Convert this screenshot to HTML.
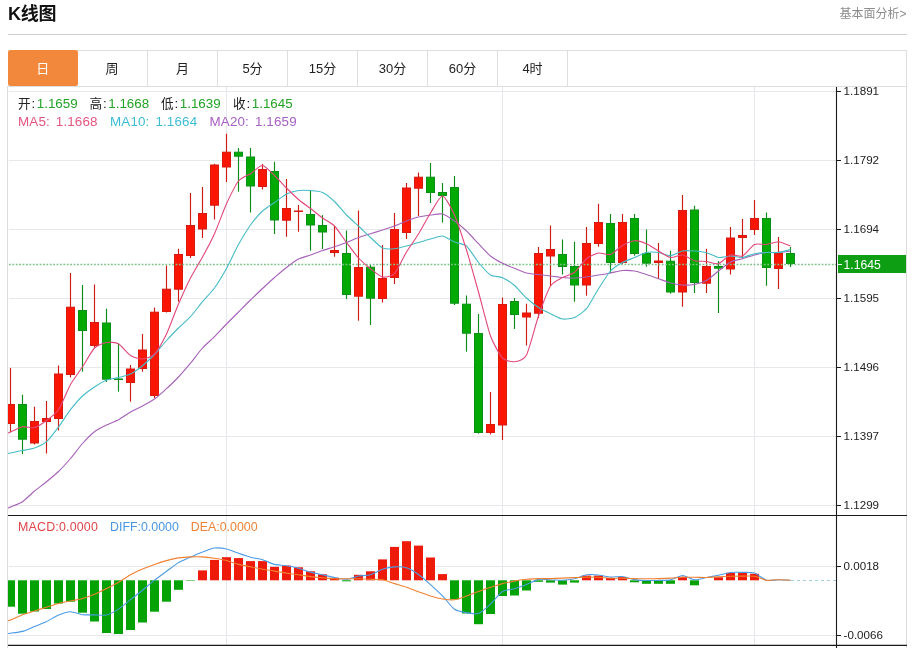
<!DOCTYPE html>
<html lang="zh-CN"><head><meta charset="utf-8"><title>K线图</title>
<style>
html,body{margin:0;padding:0;background:#fff}
body{width:914px;height:648px;position:relative;overflow:hidden;font-family:"Liberation Sans","Noto Sans CJK SC",sans-serif;color:#222}
.title{position:absolute;left:8px;top:2px;font-size:18px;font-weight:bold;line-height:24px;color:#111;letter-spacing:-.3px}
.more{position:absolute;right:7.5px;top:4.7px;font-size:12px;line-height:18px;color:#8c8c8c}
.hr{position:absolute;left:8px;top:34px;width:899px;height:1px;background:#cfcfcf}
.tabs{position:absolute;left:8px;top:50px;width:898px;height:35px;border:1px solid #dedede;border-left:none;box-sizing:content-box}
.tabs span{position:absolute;top:0;height:35px;width:69px;border-right:1px solid #dedede;text-align:center;line-height:35px;font-size:13px;color:#222}
.tabs span.on{background:#f2883b;color:#fff;border-right:none;width:69.5px;border-radius:2.5px;top:-1px;height:36px;line-height:37px}
.chart{position:absolute;left:0;top:0}
.t{position:absolute;white-space:nowrap;font-size:13.4px;line-height:16px}
.gn{color:#22a326;margin-left:1.6px}
.m{letter-spacing:.16px;word-spacing:2px}
.k{font-size:12.6px;margin-right:.8px}
</style></head><body>
<div class="title">K线图</div>
<div class="more">基本面分析&gt;</div>
<div class="hr"></div>
<div class="tabs"><span class="on" style="left:0">日</span><span style="left:69px;width:70px">周</span><span style="left:140px">月</span><span style="left:210px">5分</span><span style="left:280px">15分</span><span style="left:350px">30分</span><span style="left:420px">60分</span><span style="left:490px">4时</span></div>
<svg class="chart" width="914" height="648" viewBox="0 0 914 648"><defs><clipPath id="cp"><rect x="8" y="87" width="828.5" height="428"/></clipPath><clipPath id="cp2"><rect x="8" y="516" width="828.5" height="129"/></clipPath></defs><g stroke="#e7e8ec" stroke-width="1" fill="none"><path d="M9 91.5H836"/><path d="M9 160.5H836"/><path d="M9 229.5H836"/><path d="M9 298.5H836"/><path d="M9 367.5H836"/><path d="M9 436.5H836"/><path d="M9 505.5H836"/><path d="M9 566.5H836"/><path d="M9 635.5H836"/><path d="M226.5 87V645"/><path d="M502.5 87V645"/><path d="M754.5 87V645"/></g><path d="M7.5 86V648M906.5 86V648" stroke="#dcdcdc" stroke-width="1" fill="none"/><g clip-path="url(#cp)"><path d="M10.5 368.0V431.7" stroke="#cc1a14" stroke-width="1.15"/><rect x="6.5" y="404.5" width="8" height="19.0" fill="#fb1503" stroke="#d8190d" stroke-width="1"/><path d="M22.5 394.7V454.0" stroke="#0d8c1b" stroke-width="1.15"/><rect x="18.5" y="404.5" width="8" height="34.7" fill="#03a903" stroke="#0b9016" stroke-width="1"/><path d="M34.5 406.7V444.5" stroke="#cc1a14" stroke-width="1.15"/><rect x="30.5" y="421.5" width="8" height="21.5" fill="#fb1503" stroke="#d8190d" stroke-width="1"/><path d="M46.5 401.0V453.5" stroke="#cc1a14" stroke-width="1.15"/><rect x="42.5" y="418.5" width="8" height="3.0" fill="#fb1503" stroke="#d8190d" stroke-width="1"/><path d="M58.5 365.5V430.5" stroke="#cc1a14" stroke-width="1.15"/><rect x="54.5" y="374.0" width="8" height="44.5" fill="#fb1503" stroke="#d8190d" stroke-width="1"/><path d="M70.5 273.0V377.5" stroke="#cc1a14" stroke-width="1.15"/><rect x="66.5" y="307.2" width="8" height="67.3" fill="#fb1503" stroke="#d8190d" stroke-width="1"/><path d="M82.5 285.0V371.7" stroke="#0d8c1b" stroke-width="1.15"/><rect x="78.5" y="310.5" width="8" height="20.0" fill="#03a903" stroke="#0b9016" stroke-width="1"/><path d="M94.5 284.5V348.0" stroke="#cc1a14" stroke-width="1.15"/><rect x="90.5" y="322.5" width="8" height="23.0" fill="#fb1503" stroke="#d8190d" stroke-width="1"/><path d="M106.5 308.7V382.0" stroke="#0d8c1b" stroke-width="1.15"/><rect x="102.5" y="323.0" width="8" height="56.2" fill="#03a903" stroke="#0b9016" stroke-width="1"/><path d="M118.5 344.0V391.7" stroke="#0d8c1b" stroke-width="1.15"/><rect x="114.5" y="379.0" width="8" height="0.5" fill="#03a903" stroke="#0b9016" stroke-width="1"/><path d="M130.5 365.0V401.7" stroke="#cc1a14" stroke-width="1.15"/><rect x="126.5" y="369.0" width="8" height="13.5" fill="#fb1503" stroke="#d8190d" stroke-width="1"/><path d="M142.5 334.0V371.7" stroke="#cc1a14" stroke-width="1.15"/><rect x="138.5" y="350.0" width="8" height="18.5" fill="#fb1503" stroke="#d8190d" stroke-width="1"/><path d="M154.5 307.5V398.0" stroke="#cc1a14" stroke-width="1.15"/><rect x="150.5" y="312.2" width="8" height="83.3" fill="#fb1503" stroke="#d8190d" stroke-width="1"/><path d="M166.5 265.5V312.5" stroke="#cc1a14" stroke-width="1.15"/><rect x="162.5" y="289.2" width="8" height="22.3" fill="#fb1503" stroke="#d8190d" stroke-width="1"/><path d="M178.5 248.7V301.7" stroke="#cc1a14" stroke-width="1.15"/><rect x="174.5" y="254.5" width="8" height="34.7" fill="#fb1503" stroke="#d8190d" stroke-width="1"/><path d="M190.5 193.0V258.0" stroke="#cc1a14" stroke-width="1.15"/><rect x="186.5" y="225.5" width="8" height="30.0" fill="#fb1503" stroke="#d8190d" stroke-width="1"/><path d="M202.5 187.0V238.0" stroke="#cc1a14" stroke-width="1.15"/><rect x="198.5" y="213.5" width="8" height="15.5" fill="#fb1503" stroke="#d8190d" stroke-width="1"/><path d="M214.5 163.7V219.5" stroke="#cc1a14" stroke-width="1.15"/><rect x="210.5" y="165.0" width="8" height="40.2" fill="#fb1503" stroke="#d8190d" stroke-width="1"/><path d="M226.5 133.7V182.0" stroke="#cc1a14" stroke-width="1.15"/><rect x="222.5" y="152.2" width="8" height="14.8" fill="#fb1503" stroke="#d8190d" stroke-width="1"/><path d="M238.5 148.0V191.7" stroke="#0d8c1b" stroke-width="1.15"/><rect x="234.5" y="152.2" width="8" height="4.0" fill="#03a903" stroke="#0b9016" stroke-width="1"/><path d="M250.5 148.0V212.5" stroke="#0d8c1b" stroke-width="1.15"/><rect x="246.5" y="157.0" width="8" height="29.0" fill="#03a903" stroke="#0b9016" stroke-width="1"/><path d="M262.5 164.0V189.5" stroke="#cc1a14" stroke-width="1.15"/><rect x="258.5" y="169.5" width="8" height="17.0" fill="#fb1503" stroke="#d8190d" stroke-width="1"/><path d="M274.5 161.7V234.0" stroke="#0d8c1b" stroke-width="1.15"/><rect x="270.5" y="171.5" width="8" height="48.5" fill="#03a903" stroke="#0b9016" stroke-width="1"/><path d="M286.5 179.0V236.7" stroke="#cc1a14" stroke-width="1.15"/><rect x="282.5" y="208.5" width="8" height="11.7" fill="#fb1503" stroke="#d8190d" stroke-width="1"/><path d="M298.5 205.0V231.7" stroke="#cc1a14" stroke-width="1.15"/><rect x="294.5" y="211.0" width="8" height="0.5" fill="#fb1503" stroke="#d8190d" stroke-width="1"/><path d="M310.5 190.5V250.7" stroke="#0d8c1b" stroke-width="1.15"/><rect x="306.5" y="214.5" width="8" height="10.5" fill="#03a903" stroke="#0b9016" stroke-width="1"/><path d="M322.5 215.0V249.0" stroke="#0d8c1b" stroke-width="1.15"/><rect x="318.5" y="225.5" width="8" height="6.5" fill="#03a903" stroke="#0b9016" stroke-width="1"/><path d="M334.5 226.0V256.7" stroke="#cc1a14" stroke-width="1.15"/><rect x="330.5" y="250.5" width="8" height="2.0" fill="#fb1503" stroke="#d8190d" stroke-width="1"/><path d="M346.5 230.5V299.0" stroke="#0d8c1b" stroke-width="1.15"/><rect x="342.5" y="253.5" width="8" height="41.0" fill="#03a903" stroke="#0b9016" stroke-width="1"/><path d="M358.5 210.5V320.7" stroke="#cc1a14" stroke-width="1.15"/><rect x="354.5" y="267.5" width="8" height="28.7" fill="#fb1503" stroke="#d8190d" stroke-width="1"/><path d="M370.5 265.0V325.0" stroke="#0d8c1b" stroke-width="1.15"/><rect x="366.5" y="267.2" width="8" height="31.0" fill="#03a903" stroke="#0b9016" stroke-width="1"/><path d="M382.5 245.0V302.5" stroke="#cc1a14" stroke-width="1.15"/><rect x="378.5" y="278.5" width="8" height="20.0" fill="#fb1503" stroke="#d8190d" stroke-width="1"/><path d="M394.5 213.0V284.0" stroke="#cc1a14" stroke-width="1.15"/><rect x="390.5" y="229.5" width="8" height="48.0" fill="#fb1503" stroke="#d8190d" stroke-width="1"/><path d="M406.5 183.0V239.0" stroke="#cc1a14" stroke-width="1.15"/><rect x="402.5" y="188.0" width="8" height="44.5" fill="#fb1503" stroke="#d8190d" stroke-width="1"/><path d="M418.5 172.5V216.0" stroke="#cc1a14" stroke-width="1.15"/><rect x="414.5" y="177.2" width="8" height="11.0" fill="#fb1503" stroke="#d8190d" stroke-width="1"/><path d="M430.5 163.0V203.0" stroke="#0d8c1b" stroke-width="1.15"/><rect x="426.5" y="177.2" width="8" height="15.3" fill="#03a903" stroke="#0b9016" stroke-width="1"/><path d="M442.5 183.0V222.5" stroke="#0d8c1b" stroke-width="1.15"/><rect x="438.5" y="192.5" width="8" height="3.0" fill="#03a903" stroke="#0b9016" stroke-width="1"/><path d="M454.5 176.0V305.0" stroke="#0d8c1b" stroke-width="1.15"/><rect x="450.5" y="187.5" width="8" height="115.7" fill="#03a903" stroke="#0b9016" stroke-width="1"/><path d="M466.5 295.5V351.7" stroke="#0d8c1b" stroke-width="1.15"/><rect x="462.5" y="304.2" width="8" height="29.0" fill="#03a903" stroke="#0b9016" stroke-width="1"/><path d="M478.5 314.0V433.7" stroke="#0d8c1b" stroke-width="1.15"/><rect x="474.5" y="333.5" width="8" height="99.0" fill="#03a903" stroke="#0b9016" stroke-width="1"/><path d="M490.5 392.0V434.5" stroke="#cc1a14" stroke-width="1.15"/><rect x="486.5" y="424.5" width="8" height="8.0" fill="#fb1503" stroke="#d8190d" stroke-width="1"/><path d="M502.5 297.5V440.0" stroke="#cc1a14" stroke-width="1.15"/><rect x="498.5" y="304.5" width="8" height="120.5" fill="#fb1503" stroke="#d8190d" stroke-width="1"/><path d="M514.5 298.0V329.0" stroke="#0d8c1b" stroke-width="1.15"/><rect x="510.5" y="301.5" width="8" height="13.0" fill="#03a903" stroke="#0b9016" stroke-width="1"/><path d="M526.5 303.7V345.5" stroke="#cc1a14" stroke-width="1.15"/><rect x="522.5" y="313.0" width="8" height="4.0" fill="#fb1503" stroke="#d8190d" stroke-width="1"/><path d="M538.5 247.0V318.0" stroke="#cc1a14" stroke-width="1.15"/><rect x="534.5" y="253.5" width="8" height="59.7" fill="#fb1503" stroke="#d8190d" stroke-width="1"/><path d="M550.5 225.5V286.0" stroke="#cc1a14" stroke-width="1.15"/><rect x="546.5" y="249.5" width="8" height="6.5" fill="#fb1503" stroke="#d8190d" stroke-width="1"/><path d="M562.5 239.5V274.5" stroke="#0d8c1b" stroke-width="1.15"/><rect x="558.5" y="254.5" width="8" height="12.0" fill="#03a903" stroke="#0b9016" stroke-width="1"/><path d="M574.5 241.7V301.7" stroke="#0d8c1b" stroke-width="1.15"/><rect x="570.5" y="266.5" width="8" height="18.5" fill="#03a903" stroke="#0b9016" stroke-width="1"/><path d="M586.5 227.0V295.7" stroke="#cc1a14" stroke-width="1.15"/><rect x="582.5" y="243.5" width="8" height="41.5" fill="#fb1503" stroke="#d8190d" stroke-width="1"/><path d="M598.5 203.7V246.7" stroke="#cc1a14" stroke-width="1.15"/><rect x="594.5" y="222.5" width="8" height="21.0" fill="#fb1503" stroke="#d8190d" stroke-width="1"/><path d="M610.5 214.0V273.0" stroke="#0d8c1b" stroke-width="1.15"/><rect x="606.5" y="223.5" width="8" height="39.0" fill="#03a903" stroke="#0b9016" stroke-width="1"/><path d="M622.5 214.0V264.0" stroke="#cc1a14" stroke-width="1.15"/><rect x="618.5" y="222.5" width="8" height="40.0" fill="#fb1503" stroke="#d8190d" stroke-width="1"/><path d="M634.5 214.0V255.7" stroke="#0d8c1b" stroke-width="1.15"/><rect x="630.5" y="218.5" width="8" height="35.0" fill="#03a903" stroke="#0b9016" stroke-width="1"/><path d="M646.5 229.5V266.7" stroke="#0d8c1b" stroke-width="1.15"/><rect x="642.5" y="253.5" width="8" height="9.7" fill="#03a903" stroke="#0b9016" stroke-width="1"/><path d="M658.5 243.0V279.0" stroke="#cc1a14" stroke-width="1.15"/><rect x="654.5" y="261.0" width="8" height="1.5" fill="#fb1503" stroke="#d8190d" stroke-width="1"/><path d="M670.5 250.7V293.7" stroke="#0d8c1b" stroke-width="1.15"/><rect x="666.5" y="261.2" width="8" height="30.8" fill="#03a903" stroke="#0b9016" stroke-width="1"/><path d="M682.5 195.0V306.7" stroke="#cc1a14" stroke-width="1.15"/><rect x="678.5" y="210.5" width="8" height="81.5" fill="#fb1503" stroke="#d8190d" stroke-width="1"/><path d="M694.5 205.7V293.0" stroke="#0d8c1b" stroke-width="1.15"/><rect x="690.5" y="210.0" width="8" height="72.5" fill="#03a903" stroke="#0b9016" stroke-width="1"/><path d="M706.5 248.7V293.0" stroke="#cc1a14" stroke-width="1.15"/><rect x="702.5" y="266.5" width="8" height="16.7" fill="#fb1503" stroke="#d8190d" stroke-width="1"/><path d="M718.5 261.0V313.0" stroke="#0d8c1b" stroke-width="1.15"/><rect x="714.5" y="266.5" width="8" height="1.7" fill="#03a903" stroke="#0b9016" stroke-width="1"/><path d="M730.5 227.0V274.5" stroke="#cc1a14" stroke-width="1.15"/><rect x="726.5" y="238.0" width="8" height="31.0" fill="#fb1503" stroke="#d8190d" stroke-width="1"/><path d="M742.5 219.0V258.7" stroke="#cc1a14" stroke-width="1.15"/><rect x="738.5" y="235.5" width="8" height="2.0" fill="#fb1503" stroke="#d8190d" stroke-width="1"/><path d="M754.5 200.0V235.0" stroke="#cc1a14" stroke-width="1.15"/><rect x="750.5" y="218.5" width="8" height="11.0" fill="#fb1503" stroke="#d8190d" stroke-width="1"/><path d="M766.5 212.5V285.7" stroke="#0d8c1b" stroke-width="1.15"/><rect x="762.5" y="218.5" width="8" height="49.0" fill="#03a903" stroke="#0b9016" stroke-width="1"/><path d="M778.5 237.0V289.0" stroke="#cc1a14" stroke-width="1.15"/><rect x="774.5" y="253.5" width="8" height="15.0" fill="#fb1503" stroke="#d8190d" stroke-width="1"/><path d="M790.5 247.0V267.0" stroke="#0d8c1b" stroke-width="1.15"/><rect x="786.5" y="253.5" width="8" height="10.0" fill="#03a903" stroke="#0b9016" stroke-width="1"/></g><path d="M9 264.5H836" stroke="#7cc487" stroke-width="1.6" stroke-dasharray="1.8 1.6" fill="none"/><g clip-path="url(#cp)" fill="none" stroke-width="1.1"><path d="M8.0 508.1C8.3 507.9 9.0 507.7 10.5 507.0C12.0 506.3 19.9 503.4 22.5 501.7C25.1 500.0 31.9 493.1 34.5 491.0C37.1 488.9 43.9 483.8 46.5 481.7C49.1 479.6 55.9 474.0 58.5 471.5C61.1 469.0 67.9 461.5 70.5 458.5C73.1 455.5 79.9 446.4 82.5 443.5C85.1 440.6 91.9 433.7 94.5 431.7C97.1 429.7 103.9 426.3 106.5 425.0C109.1 423.7 115.9 421.1 118.5 419.7C121.1 418.3 127.9 413.5 130.5 412.0C133.1 410.5 139.9 407.4 142.5 406.0C145.1 404.6 151.9 400.8 154.5 399.0C157.1 397.2 163.9 391.0 166.5 388.7C169.1 386.4 175.9 379.7 178.5 377.0C181.1 374.3 187.9 366.3 190.5 363.2C193.1 360.1 199.9 350.8 202.5 348.0C205.1 345.2 211.9 339.3 214.5 336.7C217.1 334.1 223.9 326.6 226.5 324.0C229.1 321.4 235.9 314.6 238.5 312.0C241.1 309.4 247.9 302.5 250.5 300.0C253.1 297.5 259.9 290.9 262.5 288.5C265.1 286.1 271.9 279.7 274.5 277.5C277.1 275.3 283.9 269.5 286.5 267.5C289.1 265.5 295.9 260.3 298.5 259.0C301.1 257.7 307.9 255.9 310.5 255.0C313.1 254.1 319.9 251.4 322.5 250.5C325.1 249.6 331.9 247.6 334.5 246.7C337.1 245.8 343.9 243.5 346.5 242.5C349.1 241.5 355.9 238.4 358.5 237.5C361.1 236.6 367.9 234.5 370.5 233.7C373.1 232.9 379.9 230.8 382.5 230.0C385.1 229.2 391.9 227.0 394.5 226.0C397.1 225.0 403.9 222.0 406.5 221.0C409.1 220.0 415.9 217.6 418.5 217.0C421.1 216.4 427.9 215.3 430.5 215.0C433.1 214.7 439.9 213.4 442.5 214.0C445.1 214.6 451.9 219.2 454.5 221.0C457.1 222.8 463.9 228.6 466.5 231.0C469.1 233.4 475.9 241.0 478.5 243.7C481.1 246.4 487.9 253.9 490.5 256.0C493.1 258.1 499.9 262.0 502.5 263.3C505.1 264.6 511.9 267.3 514.5 268.3C517.1 269.3 523.9 272.3 526.5 273.0C529.1 273.7 535.9 274.2 538.5 274.5C541.1 274.8 547.9 275.7 550.5 276.0C553.1 276.3 559.9 277.3 562.5 277.5C565.1 277.7 571.9 278.1 574.5 278.0C577.1 277.9 583.9 277.3 586.5 277.0C589.1 276.7 595.9 275.4 598.5 275.0C601.1 274.6 607.9 273.5 610.5 273.0C613.1 272.5 619.9 270.7 622.5 270.5C625.1 270.3 631.9 270.6 634.5 271.0C637.1 271.4 643.9 273.7 646.5 274.5C649.1 275.3 655.9 277.8 658.5 278.7C661.1 279.6 667.9 282.3 670.5 283.0C673.1 283.7 679.9 284.8 682.5 285.0C685.1 285.2 691.9 285.0 694.5 284.5C697.1 284.0 703.9 281.9 706.5 280.5C709.1 279.1 715.9 273.0 718.5 271.0C721.1 269.0 727.9 263.3 730.5 262.0C733.1 260.7 739.9 259.4 742.5 258.7C745.1 258.0 751.9 255.7 754.5 255.0C757.1 254.3 763.9 252.8 766.5 252.5C769.1 252.2 775.9 252.7 778.5 252.5C781.1 252.3 789.2 251.2 790.5 251.0" stroke="#a661b8"/><path d="M8.0 453.5C8.3 453.4 9.0 453.3 10.5 453.0C12.0 452.7 19.9 451.0 22.5 450.5C25.1 450.0 31.9 448.9 34.5 448.0C37.1 447.1 43.9 443.9 46.5 441.7C49.1 439.5 55.9 430.4 58.5 427.0C61.1 423.6 67.9 413.0 70.5 409.7C73.1 406.4 79.9 398.4 82.5 396.0C85.1 393.6 91.9 388.7 94.5 387.0C97.1 385.3 103.9 381.0 106.5 380.0C109.1 379.0 115.9 378.1 118.5 377.5C121.1 376.9 127.9 375.3 130.5 374.0C133.1 372.7 139.9 367.8 142.5 365.7C145.1 363.6 151.9 357.2 154.5 354.5C157.1 351.8 163.9 343.3 166.5 340.5C169.1 337.7 175.9 330.5 178.5 328.0C181.1 325.5 187.9 319.5 190.5 316.7C193.1 313.9 199.9 304.8 202.5 301.7C205.1 298.6 211.9 291.5 214.5 288.0C217.1 284.5 223.9 273.1 226.5 268.5C229.1 263.9 235.9 249.1 238.5 244.5C241.1 239.9 247.9 228.6 250.5 225.0C253.1 221.4 259.9 213.4 262.5 211.0C265.1 208.6 271.9 204.3 274.5 202.5C277.1 200.7 283.9 195.3 286.5 194.0C289.1 192.7 295.9 190.9 298.5 190.5C301.1 190.1 307.9 190.3 310.5 190.5C313.1 190.7 319.9 191.3 322.5 192.5C325.1 193.7 331.9 199.1 334.5 201.5C337.1 203.9 343.9 212.4 346.5 215.0C349.1 217.6 355.9 223.6 358.5 226.0C361.1 228.4 367.9 235.2 370.5 237.5C373.1 239.8 379.9 246.8 382.5 248.0C385.1 249.2 391.9 248.9 394.5 248.7C397.1 248.5 403.9 246.7 406.5 246.0C409.1 245.3 415.9 243.2 418.5 242.5C421.1 241.8 427.9 239.7 430.5 239.0C433.1 238.3 439.9 235.7 442.5 236.0C445.1 236.3 451.9 240.9 454.5 242.0C457.1 243.1 463.9 243.8 466.5 246.0C469.1 248.2 475.9 259.4 478.5 262.5C481.1 265.6 487.9 273.4 490.5 275.0C493.1 276.6 499.9 276.6 502.5 277.7C505.1 278.8 511.9 283.3 514.5 285.5C517.1 287.7 523.9 295.7 526.5 298.0C529.1 300.3 535.9 305.8 538.5 307.5C541.1 309.2 547.9 312.5 550.5 313.7C553.1 314.9 559.9 318.6 562.5 319.0C565.1 319.4 571.9 318.6 574.5 317.5C577.1 316.4 583.9 311.8 586.5 308.7C589.1 305.6 595.9 292.7 598.5 288.7C601.1 284.7 607.9 273.8 610.5 271.0C613.1 268.2 619.9 263.9 622.5 262.5C625.1 261.1 631.9 258.6 634.5 257.5C637.1 256.4 643.9 253.0 646.5 252.5C649.1 252.0 655.9 252.2 658.5 252.5C661.1 252.8 667.9 255.9 670.5 255.7C673.1 255.5 679.9 251.5 682.5 251.0C685.1 250.5 691.9 250.8 694.5 251.0C697.1 251.2 703.9 252.0 706.5 252.7C709.1 253.4 715.9 257.1 718.5 257.5C721.1 257.9 727.9 256.0 730.5 256.0C733.1 256.0 739.9 257.7 742.5 257.5C745.1 257.3 751.9 254.2 754.5 253.7C757.1 253.2 763.9 252.6 766.5 252.5C769.1 252.4 775.9 252.8 778.5 252.5C781.1 252.2 789.2 249.8 790.5 249.5" stroke="#45bcc6"/><path d="M8.0 433.1C8.3 432.9 9.0 432.7 10.5 432.0C12.0 431.3 19.9 427.2 22.5 426.7C25.1 426.2 31.9 428.4 34.5 427.7C37.1 427.0 43.9 422.4 46.5 420.5C49.1 418.6 55.9 413.5 58.5 409.7C61.1 405.9 67.9 389.1 70.5 384.5C73.1 379.9 79.9 370.7 82.5 366.8C85.1 362.9 91.9 350.6 94.5 348.0C97.1 345.4 103.9 343.0 106.5 342.5C109.1 342.0 115.9 342.3 118.5 343.7C121.1 345.1 127.9 353.9 130.5 355.5C133.1 357.1 139.9 359.2 142.5 359.0C145.1 358.8 151.9 356.7 154.5 354.0C157.1 351.3 163.9 339.3 166.5 334.0C169.1 328.7 175.9 310.0 178.5 304.0C181.1 298.0 187.9 283.0 190.5 278.0C193.1 273.0 199.9 261.7 202.5 257.0C205.1 252.3 211.9 239.4 214.5 233.7C217.1 228.0 223.9 209.3 226.5 203.7C229.1 198.1 235.9 184.2 238.5 181.0C241.1 177.8 247.9 175.4 250.5 173.7C253.1 172.0 259.9 165.3 262.5 165.5C265.1 165.7 271.9 173.1 274.5 175.5C277.1 177.9 283.9 185.4 286.5 188.0C289.1 190.6 295.9 197.3 298.5 199.5C301.1 201.7 307.9 206.5 310.5 208.5C313.1 210.5 319.9 216.1 322.5 218.0C325.1 219.9 331.9 223.4 334.5 226.0C337.1 228.6 343.9 239.1 346.5 242.5C349.1 245.9 355.9 255.2 358.5 258.0C361.1 260.8 367.9 266.7 370.5 268.7C373.1 270.7 379.9 276.5 382.5 277.0C385.1 277.5 391.9 276.4 394.5 273.7C397.1 271.0 403.9 256.2 406.5 252.0C409.1 247.8 415.9 238.2 418.5 234.0C421.1 229.8 427.9 217.1 430.5 213.0C433.1 208.9 439.9 195.8 442.5 196.0C445.1 196.2 451.9 209.2 454.5 215.0C457.1 220.8 463.9 241.8 466.5 250.0C469.1 258.2 475.9 282.8 478.5 292.0C481.1 301.2 487.9 329.0 490.5 336.0C493.1 343.0 499.9 355.3 502.5 358.0C505.1 360.7 511.9 362.0 514.5 361.7C517.1 361.4 523.9 359.9 526.5 355.0C529.1 350.1 535.9 323.4 538.5 316.0C541.1 308.6 547.9 290.1 550.5 286.0C553.1 281.9 559.9 278.9 562.5 277.5C565.1 276.1 571.9 274.5 574.5 272.5C577.1 270.5 583.9 260.8 586.5 258.7C589.1 256.6 595.9 253.4 598.5 253.0C601.1 252.6 607.9 255.3 610.5 254.5C613.1 253.7 619.9 247.0 622.5 245.5C625.1 244.0 631.9 240.9 634.5 240.7C637.1 240.5 643.9 242.6 646.5 243.7C649.1 244.8 655.9 249.5 658.5 251.0C661.1 252.5 667.9 257.1 670.5 257.5C673.1 257.9 679.9 254.7 682.5 255.0C685.1 255.3 691.9 260.0 694.5 260.7C697.1 261.4 703.9 261.2 706.5 261.5C709.1 261.8 715.9 264.4 718.5 263.7C721.1 263.0 727.9 255.8 730.5 255.0C733.1 254.2 739.9 257.1 742.5 256.0C745.1 254.9 751.9 245.7 754.5 244.5C757.1 243.3 763.9 244.8 766.5 244.5C769.1 244.2 775.9 241.5 778.5 241.7C781.1 241.9 789.2 245.5 790.5 246.0" stroke="#e2477c"/></g><g clip-path="url(#cp2)"><rect x="6.0" y="580.3" width="9" height="26.4" fill="#04a204"/><rect x="18.0" y="580.3" width="9" height="33.4" fill="#04a204"/><rect x="30.0" y="580.3" width="9" height="31.2" fill="#04a204"/><rect x="42.0" y="580.3" width="9" height="28.7" fill="#04a204"/><rect x="54.0" y="580.3" width="9" height="23.2" fill="#04a204"/><rect x="66.0" y="580.3" width="9" height="21.4" fill="#04a204"/><rect x="78.0" y="580.3" width="9" height="32.4" fill="#04a204"/><rect x="90.0" y="580.3" width="9" height="41.2" fill="#04a204"/><rect x="102.0" y="580.3" width="9" height="52.7" fill="#04a204"/><rect x="114.0" y="580.3" width="9" height="53.7" fill="#04a204"/><rect x="126.0" y="580.3" width="9" height="49.7" fill="#04a204"/><rect x="138.0" y="580.3" width="9" height="42.2" fill="#04a204"/><rect x="150.0" y="580.3" width="9" height="31.4" fill="#04a204"/><rect x="162.0" y="580.3" width="9" height="21.4" fill="#04a204"/><rect x="174.0" y="580.3" width="9" height="9.5" fill="#04a204"/><rect x="186.0" y="580.3" width="9" height="0.5" fill="#04a204"/><rect x="198.0" y="570.4" width="9" height="9.9" fill="#ee1a0a"/><rect x="210.0" y="559.9" width="9" height="20.4" fill="#ee1a0a"/><rect x="222.0" y="557.2" width="9" height="23.1" fill="#ee1a0a"/><rect x="234.0" y="558.1" width="9" height="22.2" fill="#ee1a0a"/><rect x="246.0" y="561.1" width="9" height="19.2" fill="#ee1a0a"/><rect x="258.0" y="561.1" width="9" height="19.2" fill="#ee1a0a"/><rect x="270.0" y="566.8" width="9" height="13.5" fill="#ee1a0a"/><rect x="282.0" y="565.6" width="9" height="14.7" fill="#ee1a0a"/><rect x="294.0" y="567.3" width="9" height="13.0" fill="#ee1a0a"/><rect x="306.0" y="571.3" width="9" height="9.0" fill="#ee1a0a"/><rect x="318.0" y="574.3" width="9" height="6.0" fill="#ee1a0a"/><rect x="330.0" y="577.8" width="9" height="2.5" fill="#ee1a0a"/><rect x="342.0" y="580.3" width="9" height="1.0" fill="#04a204"/><rect x="354.0" y="574.8" width="9" height="5.5" fill="#ee1a0a"/><rect x="366.0" y="571.3" width="9" height="9.0" fill="#ee1a0a"/><rect x="378.0" y="559.4" width="9" height="20.9" fill="#ee1a0a"/><rect x="390.0" y="546.9" width="9" height="33.4" fill="#ee1a0a"/><rect x="402.0" y="541.2" width="9" height="39.1" fill="#ee1a0a"/><rect x="414.0" y="545.6" width="9" height="34.7" fill="#ee1a0a"/><rect x="426.0" y="557.5" width="9" height="22.8" fill="#ee1a0a"/><rect x="438.0" y="574.1" width="9" height="6.2" fill="#ee1a0a"/><rect x="450.0" y="580.3" width="9" height="19.0" fill="#04a204"/><rect x="462.0" y="580.3" width="9" height="33.2" fill="#04a204"/><rect x="474.0" y="580.3" width="9" height="43.9" fill="#04a204"/><rect x="486.0" y="580.3" width="9" height="33.7" fill="#04a204"/><rect x="498.0" y="580.3" width="9" height="15.7" fill="#04a204"/><rect x="510.0" y="580.3" width="9" height="15.2" fill="#04a204"/><rect x="522.0" y="580.3" width="9" height="10.2" fill="#04a204"/><rect x="534.0" y="580.3" width="9" height="1.5" fill="#04a204"/><rect x="546.0" y="580.3" width="9" height="2.3" fill="#04a204"/><rect x="558.0" y="580.3" width="9" height="4.3" fill="#04a204"/><rect x="570.0" y="580.3" width="9" height="2.3" fill="#04a204"/><rect x="582.0" y="575.6" width="9" height="4.7" fill="#ee1a0a"/><rect x="594.0" y="575.6" width="9" height="4.7" fill="#ee1a0a"/><rect x="606.0" y="578.0" width="9" height="2.3" fill="#ee1a0a"/><rect x="618.0" y="577.0" width="9" height="3.3" fill="#ee1a0a"/><rect x="630.0" y="580.3" width="9" height="2.0" fill="#04a204"/><rect x="642.0" y="580.3" width="9" height="3.5" fill="#04a204"/><rect x="654.0" y="580.3" width="9" height="3.5" fill="#04a204"/><rect x="666.0" y="580.3" width="9" height="3.5" fill="#04a204"/><rect x="678.0" y="576.8" width="9" height="3.5" fill="#ee1a0a"/><rect x="690.0" y="580.3" width="9" height="5.0" fill="#04a204"/><rect x="714.0" y="577.3" width="9" height="3.0" fill="#ee1a0a"/><rect x="726.0" y="572.8" width="9" height="7.5" fill="#ee1a0a"/><rect x="738.0" y="572.8" width="9" height="7.5" fill="#ee1a0a"/><rect x="750.0" y="573.8" width="9" height="6.5" fill="#ee1a0a"/></g><path d="M791 580.5H836" stroke="#9ccfe2" stroke-width="1" stroke-dasharray="3 3" fill="none"/><g clip-path="url(#cp2)" fill="none" stroke-width="1.1"><path d="M8.0 633.5C8.3 633.5 9.0 633.4 10.5 633.2C12.0 633.0 19.9 632.1 22.5 631.4C25.1 630.7 31.9 627.6 34.5 626.6C37.1 625.6 43.9 622.9 46.5 621.6C49.1 620.4 55.9 616.2 58.5 615.1C61.1 614.0 67.9 611.7 70.5 611.7C73.1 611.7 79.9 614.4 82.5 614.7C85.1 615.0 91.9 614.9 94.5 614.9C97.1 614.9 103.9 615.6 106.5 615.0C109.1 614.3 115.9 610.8 118.5 609.1C121.1 607.5 127.9 601.7 130.5 599.6C133.1 597.6 139.9 592.3 142.5 590.2C145.1 588.1 151.9 582.1 154.5 580.1C157.1 578.1 163.9 573.2 166.5 571.3C169.1 569.4 175.9 564.2 178.5 562.6C181.1 561.1 187.9 558.3 190.5 557.1C193.1 556.0 199.9 552.9 202.5 552.0C205.1 551.0 211.9 548.3 214.5 548.0C217.1 547.7 223.9 548.4 226.5 549.0C229.1 549.5 235.9 552.4 238.5 553.3C241.1 554.2 247.9 556.5 250.5 557.2C253.1 557.9 259.9 558.9 262.5 559.7C265.1 560.5 271.9 563.7 274.5 564.4C277.1 565.0 283.9 565.3 286.5 565.8C289.1 566.2 295.9 567.6 298.5 568.3C301.1 569.0 307.9 571.4 310.5 572.1C313.1 572.8 319.9 574.2 322.5 574.8C325.1 575.4 331.9 577.1 334.5 577.5C337.1 578.0 343.9 579.5 346.5 579.3C349.1 579.1 355.9 576.5 358.5 576.0C361.1 575.6 367.9 575.5 370.5 574.8C373.1 574.1 379.9 570.2 382.5 569.3C385.1 568.5 391.9 567.1 394.5 566.9C397.1 566.7 403.9 566.9 406.5 567.8C409.1 568.6 415.9 572.7 418.5 574.5C421.1 576.2 427.9 582.3 430.5 584.6C433.1 586.9 439.9 593.3 442.5 595.9C445.1 598.5 451.9 607.5 454.5 609.3C457.1 611.1 463.9 612.2 466.5 612.6C469.1 613.0 475.9 614.4 478.5 613.5C481.1 612.5 487.9 606.5 490.5 604.1C493.1 601.8 499.9 593.1 502.5 591.5C505.1 589.8 511.9 589.5 514.5 588.7C517.1 587.9 523.9 585.4 526.5 584.4C529.1 583.4 535.9 579.8 538.5 579.4C541.1 578.9 547.9 579.7 550.5 579.8C553.1 579.8 559.9 580.4 562.5 580.2C565.1 580.1 571.9 579.3 574.5 578.8C577.1 578.2 583.9 575.2 586.5 574.8C589.1 574.3 595.9 574.7 598.5 575.0C601.1 575.2 607.9 577.0 610.5 577.1C613.1 577.3 619.9 576.2 622.5 576.5C625.1 576.7 631.9 579.2 634.5 579.6C637.1 580.0 643.9 580.5 646.5 580.5C649.1 580.6 655.9 580.4 658.5 580.4C661.1 580.3 667.9 580.4 670.5 579.9C673.1 579.3 679.9 575.6 682.5 575.5C685.1 575.5 691.9 579.6 694.5 579.8C697.1 580.0 703.9 578.0 706.5 577.5C709.1 577.0 715.9 575.8 718.5 575.3C721.1 574.8 727.9 572.9 730.5 572.5C733.1 572.2 739.9 572.3 742.5 572.4C745.1 572.4 751.9 572.2 754.5 573.0C757.1 573.9 763.9 579.6 766.5 580.3C769.1 581.0 775.9 579.8 778.5 579.8C781.1 579.8 789.2 580.2 790.5 580.3" stroke="#4a9be6"/><path d="M8.0 620.6C8.3 620.5 9.0 620.6 10.5 620.0C12.0 619.4 19.9 615.7 22.5 614.7C25.1 613.7 31.9 611.8 34.5 611.0C37.1 610.2 43.9 608.1 46.5 607.3C49.1 606.5 55.9 604.2 58.5 603.5C61.1 602.8 67.9 601.5 70.5 601.0C73.1 600.5 79.9 599.2 82.5 598.5C85.1 597.8 91.9 595.4 94.5 594.3C97.1 593.2 103.9 589.9 106.5 588.6C109.1 587.3 115.9 583.8 118.5 582.3C121.1 580.8 127.9 576.2 130.5 574.8C133.1 573.4 139.9 570.2 142.5 569.1C145.1 568.0 151.9 565.3 154.5 564.4C157.1 563.5 163.9 561.3 166.5 560.6C169.1 559.9 175.9 558.3 178.5 557.9C181.1 557.5 187.9 557.0 190.5 556.9C193.1 556.8 199.9 556.8 202.5 556.9C205.1 557.0 211.9 557.8 214.5 558.2C217.1 558.6 223.9 559.8 226.5 560.5C229.1 561.2 235.9 563.7 238.5 564.4C241.1 565.1 247.9 566.3 250.5 566.8C253.1 567.3 259.9 568.8 262.5 569.3C265.1 569.8 271.9 570.7 274.5 571.1C277.1 571.5 283.9 572.7 286.5 573.1C289.1 573.5 295.9 574.4 298.5 574.8C301.1 575.2 307.9 576.3 310.5 576.6C313.1 576.9 319.9 577.6 322.5 577.8C325.1 578.0 331.9 578.7 334.5 578.8C337.1 578.9 343.9 578.8 346.5 578.8C349.1 578.8 355.9 578.7 358.5 578.8C361.1 578.9 367.9 579.2 370.5 579.3C373.1 579.4 379.9 579.3 382.5 579.8C385.1 580.3 391.9 582.8 394.5 583.6C397.1 584.4 403.9 586.4 406.5 587.3C409.1 588.2 415.9 590.9 418.5 591.8C421.1 592.7 427.9 595.2 430.5 596.0C433.1 596.8 439.9 598.6 442.5 599.0C445.1 599.4 451.9 600.1 454.5 599.8C457.1 599.5 463.9 596.9 466.5 596.0C469.1 595.1 475.9 592.4 478.5 591.5C481.1 590.6 487.9 588.1 490.5 587.3C493.1 586.5 499.9 584.3 502.5 583.6C505.1 582.9 511.9 581.6 514.5 581.1C517.1 580.6 523.9 579.6 526.5 579.3C529.1 579.0 535.9 578.7 538.5 578.6C541.1 578.5 547.9 578.7 550.5 578.6C553.1 578.5 559.9 578.2 562.5 578.1C565.1 578.0 571.9 577.7 574.5 577.6C577.1 577.5 583.9 577.1 586.5 577.1C589.1 577.1 595.9 577.2 598.5 577.3C601.1 577.4 607.9 578.2 610.5 578.3C613.1 578.4 619.9 578.1 622.5 578.1C625.1 578.1 631.9 578.5 634.5 578.6C637.1 578.7 643.9 578.8 646.5 578.8C649.1 578.8 655.9 578.7 658.5 578.6C661.1 578.5 667.9 578.2 670.5 578.1C673.1 578.0 679.9 577.4 682.5 577.3C685.1 577.2 691.9 577.3 694.5 577.3C697.1 577.3 703.9 577.6 706.5 577.5C709.1 577.4 715.9 576.9 718.5 576.8C721.1 576.7 727.9 576.4 730.5 576.3C733.1 576.2 739.9 576.1 742.5 576.1C745.1 576.1 751.9 575.9 754.5 576.3C757.1 576.7 763.9 579.9 766.5 580.3C769.1 580.7 775.9 579.8 778.5 579.8C781.1 579.8 789.2 580.2 790.5 580.3" stroke="#f08030"/></g><g stroke="#1a1a1a" fill="none"><path d="M836.5 87V648" stroke-width="1.1"/><path d="M8 515.5H907" stroke-width="1.15"/><path d="M8 645.3H907" stroke-width="1.3"/><g stroke-width="1"><path d="M837 91.5H841"/><path d="M837 160.5H841"/><path d="M837 229.5H841"/><path d="M837 298.5H841"/><path d="M837 367.5H841"/><path d="M837 436.5H841"/><path d="M837 505.5H841"/><path d="M837 566.5H841"/><path d="M837 635.5H841"/></g></g><rect x="838" y="255" width="68" height="18" fill="#0e9e14"/><path d="M837 264.5H842" stroke="#fff" stroke-width="1"/><g font-family="'Liberation Sans',sans-serif" font-size="11.6" fill="#222"><text x="843.6" y="95.2">1.1891</text><text x="843.6" y="164.2">1.1792</text><text x="843.6" y="233.2">1.1694</text><text x="843.6" y="302.2">1.1595</text><text x="843.6" y="371.2">1.1496</text><text x="843.6" y="440.2">1.1397</text><text x="843.6" y="509.2">1.1299</text><text x="843.6" y="570.2">0.0018</text><text x="843.6" y="639.2">-0.0066</text></g><text x="843.6" y="268.6" font-family="'Liberation Sans',sans-serif" font-size="12.2" fill="#fff">1.1645</text></svg>
<div class="t" style="left:18px;top:95.5px"><span class="k">开</span>:<span class="gn">1.1659</span></div>
<div class="t" style="left:89.5px;top:95.5px"><span class="k">高</span>:<span class="gn">1.1668</span></div>
<div class="t" style="left:161px;top:95.5px"><span class="k">低</span>:<span class="gn">1.1639</span></div>
<div class="t" style="left:233px;top:95.5px"><span class="k">收</span>:<span class="gn">1.1645</span></div>
<div class="t m" style="left:18px;top:113.5px;color:#e4557f">MA5: 1.1668</div>
<div class="t m" style="left:110px;top:113.5px;color:#3bbcd4">MA10: 1.1664</div>
<div class="t m" style="left:209.5px;top:113.5px;color:#a860c4">MA20: 1.1659</div>
<div class="t" style="left:18px;top:518.7px;color:#e0454a;font-size:12.4px;letter-spacing:.2px">MACD:0.0000</div>
<div class="t" style="left:110px;top:518.7px;color:#4a96e0;font-size:12.4px">DIFF:0.0000</div>
<div class="t" style="left:190.8px;top:518.7px;color:#ee8236;font-size:12.4px">DEA:0.0000</div>
</body></html>
